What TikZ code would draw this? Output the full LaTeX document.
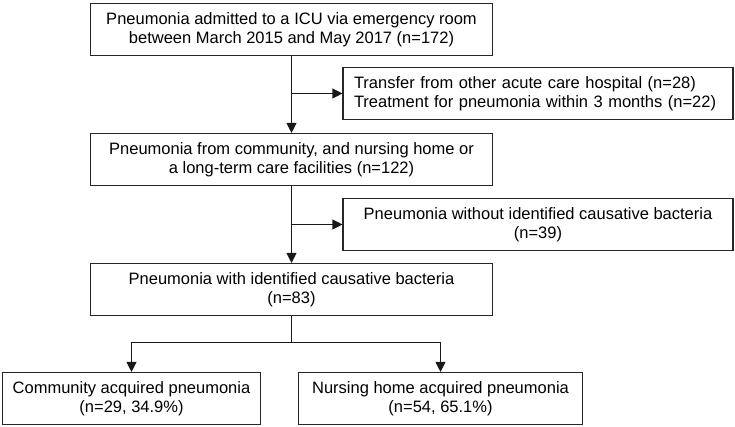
\documentclass[tikz,border=0pt]{standalone}
\usepackage{fontspec}
\setmainfont{Liberation Sans}
\usetikzlibrary{arrows.meta}
\begin{document}
\begin{tikzpicture}[x=1pt,y=-1pt,
  box/.style={draw=black!85, line width=1.1pt, rectangle, minimum height=52pt, inner sep=0pt,
    font=\fontsize{16.5}{18.5}\selectfont, align=center},
  leftbox/.style={box, align=left, inner xsep=11pt},
  conn/.style={line width=1.1pt, draw=black!90},
  arr/.style={conn, -{Triangle[length=10pt,width=10pt]}}]
\useasboundingbox (0,0) rectangle (735,427);
\node[box, minimum width=402pt] (b1) at (291.5,29.5) {Pneumonia admitted to a ICU via emergency room\\between March 2015 and May 2017 (n=172)};
\node[leftbox, minimum width=390pt, text width=368pt] (b2) at (538,93.5) {Transfer from other acute care hospital (n=28)\\Treatment for pneumonia within 3 months (n=22)};
\node[box, minimum width=402pt] (b3) at (291.5,159.5) {Pneumonia from community, and nursing home or\\a long-term care facilities (n=122)};
\node[box, minimum width=390pt] (b4) at (538,224.5) {Pneumonia without identified causative bacteria\\(n=39)};
\node[box, minimum width=402pt] (b5) at (291.5,289.5) {Pneumonia with identified causative bacteria\\(n=83)};
\node[box, minimum width=258pt] (b6) at (131.5,398.5) {Community acquired pneumonia\\(n=29, 34.9\%)};
\node[box, minimum width=284pt] (b7) at (440.5,398.5) {Nursing home acquired pneumonia\\(n=54, 65.1\%)};
\coordinate (j) at (291.5,342.5);
\draw[arr] (b1.south) -- (b1.south |- b3.north);
\draw[arr] (b1.south |- b2.west) -- (b2.west);
\draw[arr] (b3.south) -- (b3.south |- b5.north);
\draw[arr] (b3.south |- b4.west) -- (b4.west);
\draw[conn] (b5.south) -- (j);
\draw[arr] (j) -| (b6.north);
\draw[arr] (j) -| (b7.north);
\end{tikzpicture}
\end{document}
